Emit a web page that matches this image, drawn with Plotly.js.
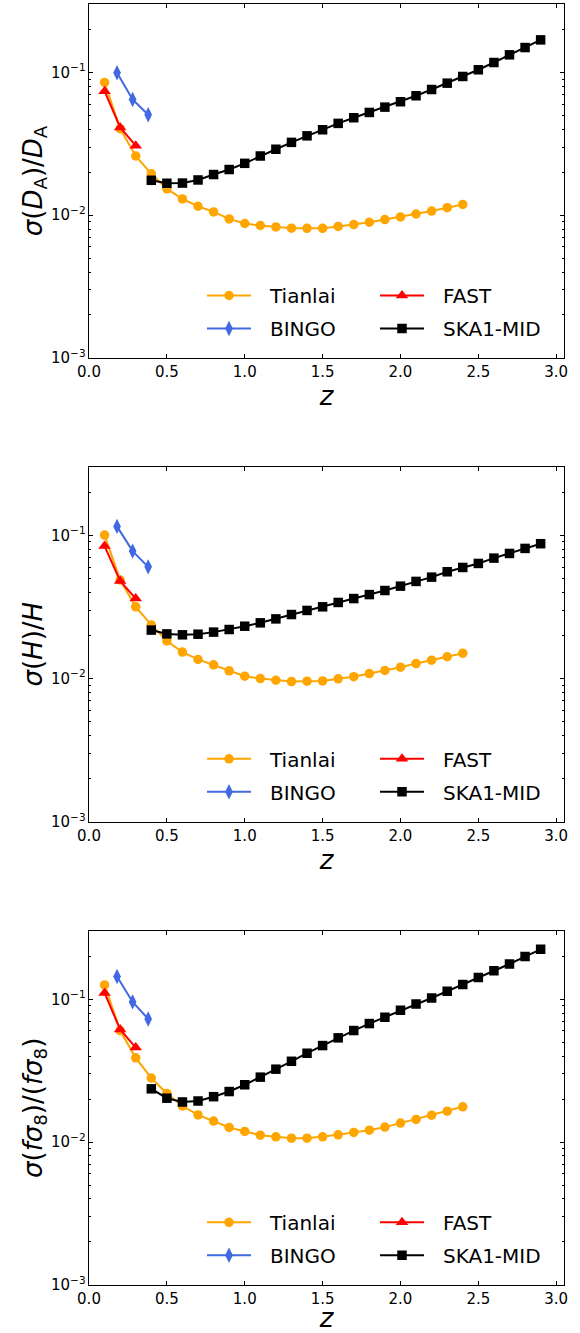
<!DOCTYPE html>
<html>
<head>
<meta charset="utf-8">
<script src="https://cdn.plot.ly/plotly-3.0.1.min.js"></script>
<style>html,body{margin:0;padding:0;background:#fff}</style>
</head>
<body>
<div id="chart" style="width:580px;height:1333px"></div>
<script>
// Redshift bins for each survey
const zTianlai = [0.1,0.2,0.3,0.4,0.5,0.6,0.7,0.8,0.9,1.0,1.1,1.2,1.3,1.4,1.5,1.6,1.7,1.8,1.9,2.0,2.1,2.2,2.3,2.4];
const zBingo = [0.18,0.28,0.38];
const zFast = [0.1,0.2,0.3];
const zSka = [0.4,0.5,0.6,0.7,0.8,0.9,1.0,1.1,1.2,1.3,1.4,1.5,1.6,1.7,1.8,1.9,2.0,2.1,2.2,2.3,2.4,2.5,2.6,2.7,2.8,2.9];

// sigma(D_A)/D_A
const daTianlai = [0.0851,0.0404,0.0260,0.0195,0.0153,0.0130,0.01156,0.01055,0.00942,0.00875,0.00847,0.00828,0.00811,0.0081,0.0081,0.00834,0.0086,0.00893,0.00933,0.00973,0.0102,0.0107,0.0113,0.0119];
const daBingo = [0.0995,0.0647,0.0506];
const daFast = [0.0740,0.0412,0.0307];
const daSka = [0.01757,0.01675,0.0168,0.01766,0.01928,0.0209,0.0231,0.0260,0.0290,0.0324,0.0360,0.0397,0.0440,0.0482,0.0525,0.0572,0.0624,0.0687,0.0760,0.0842,0.0938,0.1045,0.1175,0.133,0.1496,0.1693];

// sigma(H)/H
const hTianlai = [0.1005,0.0488,0.0317,0.0237,0.0183,0.0153,0.0136,0.01247,0.01132,0.01038,0.0100,0.00973,0.00953,0.00958,0.00963,0.00995,0.0103,0.01084,0.01138,0.0120,0.01273,0.01343,0.0142,0.01503];
const hBingo = [0.1156,0.0777,0.0603];
const hFast = [0.0842,0.0480,0.0362];
const hSka = [0.0218,0.0205,0.0202,0.0204,0.0211,0.0220,0.0232,0.0245,0.0261,0.0280,0.0299,0.0317,0.0340,0.0362,0.0386,0.0412,0.0442,0.0477,0.0511,0.0557,0.0597,0.0637,0.0694,0.0748,0.0811,0.0875];

// sigma(f sigma8)/(f sigma8)
const fsTianlai = [0.1259,0.0604,0.0389,0.0281,0.0219,0.0179,0.0155,0.01403,0.01267,0.01188,0.01119,0.01089,0.01066,0.01066,0.01089,0.01125,0.0117,0.01213,0.01274,0.0136,0.01442,0.01545,0.01648,0.01767];
const fsBingo = [0.1442,0.0958,0.0728];
const fsFast = [0.1107,0.0614,0.0459];
const fsSka = [0.0236,0.0203,0.0191,0.0194,0.0208,0.0226,0.0252,0.0285,0.0324,0.0368,0.0419,0.0474,0.0537,0.0604,0.0676,0.0748,0.0838,0.0927,0.1020,0.1137,0.1267,0.1419,0.1586,0.1766,0.1988,0.2237];

const surveyNames = ['Tianlai','BINGO','FAST','SKA1-MID'];
const yTitles = [
  '<i>σ</i>(<i>D</i><sub>A</sub>)/<i>D</i><sub>A</sub>',
  '<i>σ</i>(<i>H</i>)/<i>H</i>',
  '<i>σ</i>(<i>fσ</i><sub>8</sub>)/(<i>fσ</i><sub>8</sub>)'
];

const FONT = 'DejaVu Sans, Verdana, sans-serif';
const styles = [
  {color:'#FFA500', symbol:'circle', size:9.5},
  {color:'#4169E1', symbol:'diamond-tall', size:11},
  {color:'#FF0000', symbol:'triangle-up', size:11},
  {color:'#000000', symbol:'square', size:9.5}
];

const panels = [
  {z:[zTianlai,zBingo,zFast,zSka], v:[daTianlai,daBingo,daFast,daSka]},
  {z:[zTianlai,zBingo,zFast,zSka], v:[hTianlai,hBingo,hFast,hSka]},
  {z:[zTianlai,zBingo,zFast,zSka], v:[fsTianlai,fsBingo,fsFast,fsSka]}
];

// extra gap between legend symbol and label
const LABEL_PAD = '\u2002\u2009';

const traces = [];
panels.forEach((p, i) => {
  const sfx = i === 0 ? '' : String(i + 1);
  for (let k = 0; k < 4; k++) {
    const s = styles[k];
    // first legend column: Tianlai, BINGO; second column: FAST, SKA1-MID
    const legIdx = 2 * i + (k < 2 ? 1 : 2);
    traces.push({
      x: p.z[k], y: p.v[k],
      xaxis: 'x' + sfx, yaxis: 'y' + sfx,
      type: 'scatter', mode: 'lines+markers',
      name: LABEL_PAD + surveyNames[k],
      legend: legIdx === 1 ? 'legend' : 'legend' + legIdx,
      legendgroup: 'p' + i + 'k' + k,
      line: {color: s.color, width: 2},
      marker: {color: s.color, symbol: s.symbol, size: s.size, line: {width: 0}},
      hoverinfo: 'x+y+name'
    });
  }
});

// plot area: 89..564 px horizontally, 4..1285 px vertically
const domains = [[0.7237, 1.0], [0.3617, 0.6388], [0.0, 0.2766]];
const layout = {
  width: 580, height: 1333,
  margin: {l: 89, r: 16, t: 4, b: 48},
  paper_bgcolor: '#fff', plot_bgcolor: '#fff',
  font: {family: FONT, color: '#000'},
  showlegend: true
};

const legendTops = [276, 739.3, 1202.8];
const colLeft = [202, 375];

domains.forEach((d, i) => {
  const sfx = i === 0 ? '' : String(i + 1);
  layout['xaxis' + sfx] = {
    domain: [0, 1], anchor: 'y' + sfx,
    range: [0, 3.05], dtick: 0.5, tick0: 0, tickformat: '.1f',
    ticks: 'inside', ticklen: 4, tickwidth: 1, tickcolor: '#000',
    showline: true, linecolor: '#000', linewidth: 1, mirror: 'allticks',
    showgrid: false, zeroline: false,
    tickfont: {family: FONT, size: 15, color: '#000'},
    title: {text: '<i>z</i>', font: {family: FONT, size: 26, color: '#000'}, standoff: 5}
  };
  layout['yaxis' + sfx] = {
    domain: d, anchor: 'x' + sfx,
    type: 'log', range: [-3, -0.52], dtick: 1, exponentformat: 'power',
    ticks: 'inside', ticklen: 4, tickwidth: 1, tickcolor: '#000',
    minor: {ticks: 'inside', ticklen: 2, tickwidth: 1, tickcolor: '#000', dtick: 'D1', showgrid: false},
    showline: true, linecolor: '#000', linewidth: 1, mirror: 'allticks',
    showgrid: false, zeroline: false,
    tickfont: {family: FONT, size: 12, color: '#000'},
    title: {text: yTitles[i], font: {family: FONT, size: 26, color: '#000'}, standoff: 0}
  };
  for (let c = 0; c < 2; c++) {
    const idx = 2 * i + c + 1;
    const key = idx === 1 ? 'legend' : 'legend' + idx;
    layout[key] = {
      x: (colLeft[c] - 89) / 475,
      y: (1285 - legendTops[i]) / 1281,
      xanchor: 'left', yanchor: 'top',
      bgcolor: 'rgba(0,0,0,0)', borderwidth: 0,
      itemwidth: 44, tracegroupgap: 4, traceorder: 'grouped',
      font: {family: FONT, size: 20, color: '#000'}
    };
  }
});

Plotly.newPlot('chart', traces, layout, {displayModeBar: false, staticPlot: true});
</script>
</body>
</html>
